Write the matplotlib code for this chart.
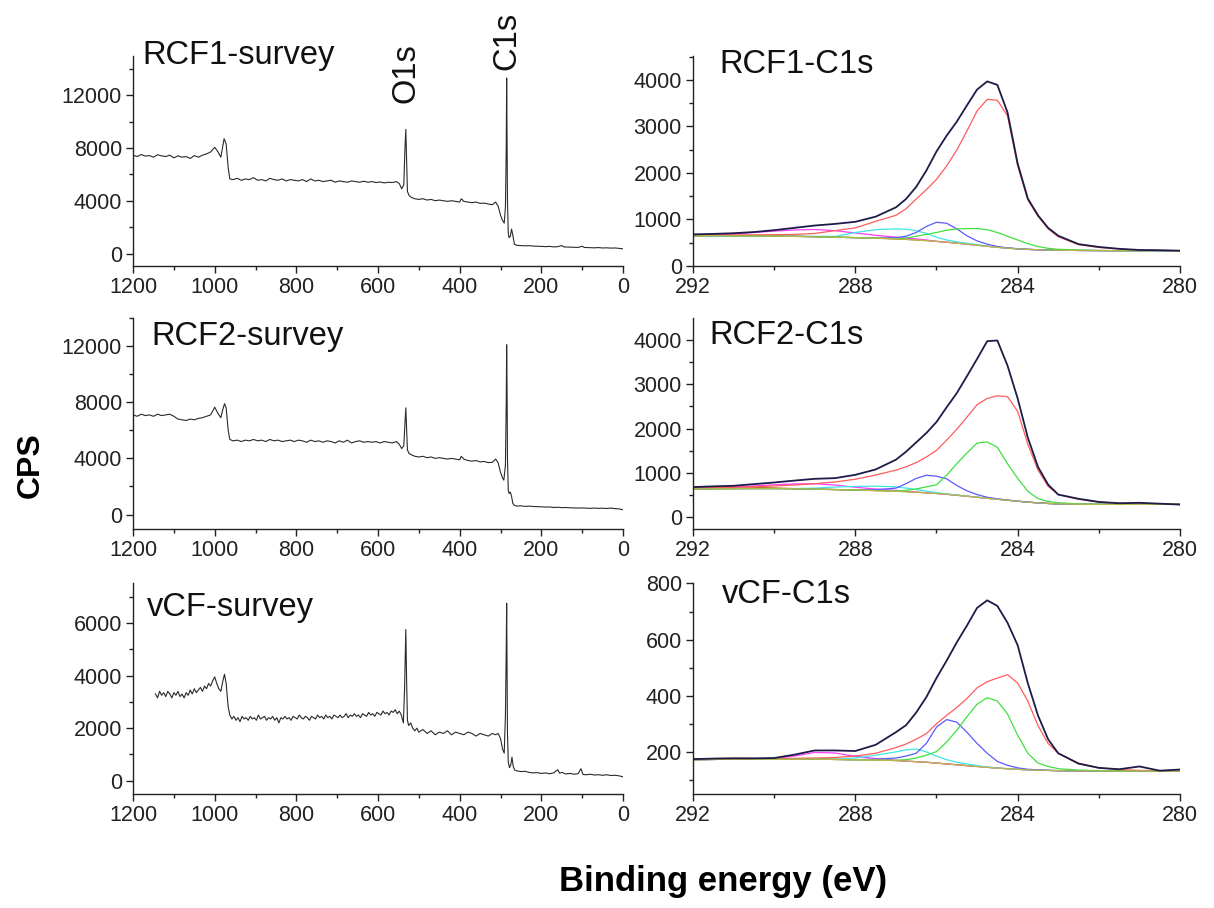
import numpy as np
import matplotlib.pyplot as plt
from matplotlib.ticker import MultipleLocator

plt.rcParams['font.family'] = ['Liberation Sans', 'DejaVu Sans']

# ---------------- survey spectra (binding energy in eV, CPS) ----------------
rcf1_survey_be = [
    1200, 1190, 1180, 1170, 1160, 1150, 1140, 1130, 1120, 1110,
    1100, 1090, 1080, 1070, 1060, 1050, 1040, 1030, 1020, 1010,
    1000, 992, 985, 980, 977, 972, 967, 963, 955, 945,
    935, 925, 915, 905, 895, 885, 875, 865, 855, 845,
    835, 825, 815, 805, 795, 785, 775, 765, 755, 745,
    735, 725, 715, 705, 695, 685, 675, 665, 655, 645,
    635, 625, 615, 605, 595, 585, 575, 565, 555, 548,
    542, 537, 534, 532, 530, 528, 524, 518, 510, 500,
    490, 480, 470, 460, 450, 440, 430, 420, 410, 400,
    396, 390, 380, 370, 360, 350, 340, 330, 320, 312,
    306, 300, 295, 291, 288, 286, 285, 284, 283, 281,
    279, 276, 273, 270, 266, 260, 250, 240, 230, 220,
    210, 200, 190, 180, 170, 160, 150, 145, 130, 120,
    110, 100, 95, 80, 70, 60, 50, 40, 30, 20,
    10, 0]
rcf1_survey_cps = [
    7450, 7350, 7500, 7380, 7420, 7300, 7480, 7400, 7350, 7450,
    7250, 7400, 7300, 7350, 7200, 7420, 7300, 7450, 7550, 7700,
    8050, 7700, 7300, 8200, 8700, 8300, 6500, 5650, 5600, 5700,
    5550, 5650, 5600, 5750, 5550, 5600, 5500, 5700, 5600, 5550,
    5650, 5500, 5600, 5550, 5500, 5600, 5450, 5650, 5500, 5550,
    5450, 5500, 5550, 5400, 5500, 5450, 5400, 5500, 5450, 5400,
    5480, 5400, 5450, 5380, 5420, 5350, 5400, 5380, 5450, 5300,
    4900, 5200, 8000, 9400, 7000, 4700, 4400, 4250, 4150, 4100,
    4150, 4050, 4100, 4000, 4050, 4000, 3950, 4000, 3950, 3900,
    4150, 3950, 3900, 3850, 3900, 3800, 3820, 3750, 3700, 3900,
    3600, 2900, 2500, 2300, 3500, 8000, 13300, 9000, 4000, 1500,
    1200, 1300, 1850, 1400, 700, 620, 600, 580, 600, 560,
    550, 540, 520, 540, 500, 520, 600, 500, 480, 470,
    460, 550, 460, 440, 430, 450, 420, 430, 410, 420,
    390, 350]

rcf2_survey_be = [
    1200, 1190, 1180, 1170, 1160, 1150, 1140, 1130, 1120, 1110,
    1100, 1090, 1080, 1070, 1060, 1050, 1040, 1030, 1020, 1010,
    1000, 992, 985, 980, 976, 972, 967, 963, 955, 945,
    935, 925, 915, 905, 895, 885, 875, 865, 855, 845,
    835, 825, 815, 805, 795, 785, 775, 765, 755, 745,
    735, 725, 715, 705, 695, 685, 675, 665, 655, 645,
    635, 625, 615, 605, 595, 585, 575, 565, 555, 548,
    542, 537, 534, 532, 530, 528, 524, 518, 510, 500,
    490, 480, 470, 460, 450, 440, 430, 420, 410, 400,
    396, 390, 380, 370, 360, 350, 340, 330, 320, 312,
    306, 300, 295, 292, 288, 286, 285, 284, 283, 281,
    279, 276, 273, 270, 266, 260, 250, 240, 230, 220,
    210, 200, 190, 180, 170, 160, 150, 140, 130, 120,
    110, 100, 90, 80, 70, 60, 50, 40, 30, 20,
    10, 0]
rcf2_survey_cps = [
    7100, 7000, 7150, 7050, 7100, 7000, 7150, 7050, 7100, 7150,
    7000, 6800, 6750, 6700, 6800, 6750, 6850, 6900, 7000, 7100,
    7650, 7200, 6900, 7500, 7900, 7600, 6000, 5350, 5250, 5300,
    5200, 5300, 5250, 5350, 5250, 5300, 5200, 5350, 5250, 5300,
    5200, 5250, 5300, 5200, 5300, 5250, 5150, 5300, 5200, 5250,
    5150, 5250, 5200, 5100, 5250, 5150, 5300, 5100, 5200, 5250,
    5150, 5200, 5150, 5200, 5100, 5200, 5150, 5100, 5200, 5000,
    4700, 4900, 6500, 7600, 6000, 4600, 4350, 4250, 4150, 4100,
    4150, 4050, 4100, 4000, 4050, 4000, 3950, 4000, 3950, 3900,
    4150, 3950, 3850, 3800, 3850, 3750, 3780, 3700, 3720, 3950,
    3700, 3000, 2600, 2450, 3500, 8000, 12100, 9000, 4000, 1700,
    1500, 1600, 1300, 800, 650, 600, 620, 580, 600, 570,
    560, 550, 530, 540, 500, 520, 490, 500, 480, 470,
    460, 470, 450, 440, 460, 440, 450, 430, 460, 420,
    400, 340]

vcf_survey_be = [
    1145, 1140, 1135, 1130, 1125, 1120, 1115, 1110, 1105, 1100,
    1095, 1090, 1085, 1080, 1075, 1070, 1065, 1060, 1055, 1050,
    1045, 1040, 1035, 1030, 1025, 1020, 1015, 1010, 1005, 1000,
    995, 990, 985, 980, 976, 972, 967, 963, 958, 953,
    948, 943, 938, 933, 928, 923, 918, 913, 908, 903,
    898, 893, 888, 883, 878, 873, 868, 863, 858, 853,
    848, 843, 838, 833, 828, 823, 818, 813, 808, 803,
    798, 793, 788, 783, 778, 773, 768, 763, 758, 753,
    748, 743, 738, 733, 728, 723, 718, 713, 708, 703,
    698, 693, 688, 683, 678, 673, 668, 663, 658, 653,
    648, 643, 638, 633, 628, 623, 618, 613, 608, 603,
    598, 593, 588, 583, 578, 573, 568, 563, 558, 553,
    548, 543, 538, 535, 532, 530, 528, 525, 520, 515,
    510, 505, 500, 490, 480, 470, 460, 450, 440, 430,
    420, 410, 400, 390, 380, 370, 360, 350, 340, 330,
    320, 312, 306, 300, 295, 291, 288, 286, 285, 284,
    283, 281, 278, 275, 272, 269, 265, 260, 250, 240,
    230, 220, 210, 200, 190, 180, 170, 160, 155, 150,
    140, 130, 120, 110, 103, 98, 90, 80, 70, 60,
    50, 40, 30, 20, 10, 0]
vcf_survey_cps = [
    3300, 3150, 3400, 3250, 3350, 3200, 3400, 3300, 3150, 3350,
    3250, 3400, 3200, 3300, 3150, 3350, 3250, 3450, 3300, 3500,
    3350, 3450, 3550, 3400, 3600, 3500, 3700, 3600, 3800, 3950,
    3700, 3500, 3400, 3800, 4050, 3700, 2800, 2500, 2350, 2450,
    2300, 2400, 2250, 2450, 2350, 2400, 2300, 2450, 2350, 2400,
    2300, 2500, 2350, 2400, 2450, 2300, 2400, 2350, 2450, 2300,
    2400, 2200, 2400, 2350, 2450, 2350, 2400, 2300, 2450, 2400,
    2350, 2500, 2400, 2350, 2450, 2400, 2300, 2450, 2400, 2350,
    2500, 2400, 2450, 2350, 2500, 2400, 2450, 2350, 2500, 2450,
    2400, 2500, 2400, 2450, 2550, 2400, 2500, 2450, 2550, 2450,
    2500, 2400, 2550, 2500, 2450, 2600, 2500, 2550, 2450, 2600,
    2550, 2500, 2650, 2550, 2600, 2500, 2650, 2600, 2700, 2550,
    2650, 2500, 2200, 3500, 5750, 3800, 2300, 2100, 2200, 2000,
    1900, 2000, 1850, 1950, 1800, 1900, 1750, 1850, 1800, 1900,
    1750, 1850, 1800, 1750, 1850, 1800, 1700, 1800, 1750, 1700,
    1800, 1750, 1800, 1600, 1200, 1050, 2500, 5000, 6750, 4000,
    1800, 700, 500, 600, 900, 550, 400, 380, 350, 360,
    320, 300, 310, 280, 300, 270, 300, 420, 290, 320,
    260, 280, 250, 270, 460, 240, 230, 250, 220, 230,
    210, 230, 200, 210, 190, 150]

# ---------------- C1s high resolution: energy grid shared by all fits -------
c1s_be = [292, 291.5, 291, 290.5, 290, 289.5, 289, 288.5, 288, 287.5,
          287, 286.75, 286.5, 286.25, 286, 285.75, 285.5, 285.25, 285, 284.75,
          284.5, 284.25, 284, 283.75, 283.5, 283.25, 283, 282.5, 282, 281.5,
          281, 280.5, 280]

# RCF1
rcf1_bg = [650, 650, 648, 645, 642, 638, 630, 620, 610, 598,
           582, 572, 560, 546, 530, 512, 492, 470, 448, 425,
           403, 385, 370, 358, 350, 344, 340, 335, 332, 330,
           330, 330, 330]
rcf1_env = [680, 690, 705, 730, 770, 820, 870, 905, 950, 1060,
            1260, 1440, 1700, 2050, 2460, 2800, 3100, 3450, 3790, 3965,
            3890, 3300, 2200, 1450, 1090, 820, 650, 470, 410, 370,
            345, 340, 330]
rcf1_red = [650, 660, 665, 670, 672, 680, 700, 760, 820, 960,
            1090, 1230, 1440, 1640, 1860, 2150, 2490, 2900, 3330, 3580,
            3560, 3230, 2150, 1420, 1070, 800, 630, 460, 400, 365,
            340, 335, 330]
rcf1_green = [650, 650, 648, 645, 642, 638, 630, 620, 610, 598,
              590, 600, 640, 680, 720, 770, 795, 805, 805, 780,
              720, 640, 560, 480, 420, 380, 360, 345, 335, 330,
              330, 330, 330]
rcf1_blue = [650, 650, 648, 645, 642, 638, 630, 620, 610, 600,
             610, 640, 720, 850, 940, 920, 800, 650, 540, 470,
             420, 390, 372, 358, 350, 344, 340, 335, 332, 330,
             330, 330, 330]
rcf1_cyan = [650, 650, 648, 645, 642, 638, 640, 635, 720, 780,
             800, 790, 760, 700, 620, 560, 520, 490, 460, 430,
             405, 385, 370, 358, 350, 344, 340, 335, 332, 330,
             330, 330, 330]
rcf1_magenta = [660, 670, 690, 720, 750, 775, 785, 760, 710, 660,
                620, 600, 585, 560, 530, 512, 492, 470, 448, 425,
                403, 385, 370, 358, 350, 344, 340, 335, 332, 330,
                330, 330, 330]
rcf1_orange = [680, 670, 665, 655, 648, 640, 630, 620, 610, 598,
               582, 572, 560, 546, 530, 512, 492, 470, 448, 425,
               403, 385, 370, 358, 350, 344, 340, 335, 332, 330,
               330, 330, 330]

# RCF2
rcf2_bg = [640, 645, 648, 650, 650, 645, 638, 628, 618, 605,
           590, 580, 568, 555, 540, 522, 500, 478, 455, 432,
           410, 388, 365, 345, 328, 315, 305, 298, 295, 295,
           295, 295, 295]
rcf2_env = [684, 700, 713, 750, 787, 830, 870, 885, 960, 1080,
            1300, 1480, 1690, 1900, 2150, 2480, 2800, 3180, 3570, 3970,
            3985, 3420, 2680, 1800, 1140, 740, 515, 420, 350, 320,
            330, 310, 290]
rcf2_red = [660, 670, 680, 690, 710, 730, 760, 800, 860, 955,
            1065, 1140, 1235, 1360, 1510, 1740, 1985, 2260, 2540, 2680,
            2740, 2720, 2390, 1650, 1070, 700, 515, 410, 345, 320,
            310, 300, 295]
rcf2_green = [640, 645, 648, 650, 650, 645, 638, 628, 618, 605,
              595, 610, 640, 690, 735, 950, 1210, 1450, 1675, 1700,
              1580, 1210, 880, 590, 425, 360, 330, 305, 295, 295,
              295, 295, 295]
rcf2_blue = [640, 645, 648, 650, 650, 645, 638, 628, 618, 625,
             660, 760, 880, 950, 930, 870, 720, 600, 515, 455,
             420, 392, 368, 346, 328, 315, 305, 298, 295, 295,
             295, 295, 295]
rcf2_cyan = [640, 645, 648, 650, 650, 650, 660, 685, 700, 705,
             690, 660, 630, 590, 560, 530, 505, 480, 458, 433,
             410, 388, 365, 345, 328, 315, 305, 298, 295, 295,
             295, 295, 295]
rcf2_magenta = [650, 660, 680, 710, 735, 755, 760, 730, 680, 640,
                610, 590, 570, 555, 540, 522, 500, 478, 455, 432,
                410, 388, 365, 345, 328, 315, 305, 298, 295, 295,
                295, 295, 295]
rcf2_orange = [670, 690, 690, 680, 665, 650, 638, 628, 618, 605,
               590, 580, 568, 555, 540, 522, 500, 478, 455, 432,
               410, 388, 365, 345, 328, 315, 305, 298, 295, 295,
               295, 295, 295]

# vCF
vcf_bg = [172, 173, 174, 174, 174, 174, 174, 173, 172, 171,
          169, 167, 165, 163, 160, 157, 154, 151, 148, 145,
          142, 140, 138, 136, 135, 134, 133, 132, 132, 132,
          132, 132, 132]
vcf_env = [174, 176, 177, 177, 178, 190, 205, 205, 203, 225,
           270, 295, 340, 395, 463, 525, 590, 650, 713, 740,
           720, 660, 580, 445, 330, 245, 195, 158, 143, 138,
           148, 133, 137]
vcf_red = [172, 173, 174, 175, 176, 177, 178, 180, 185, 195,
           215, 228, 245, 265, 300, 330, 358, 390, 428, 450,
           463, 475, 445, 381, 294, 230, 195, 160, 143, 137,
           134, 133, 132]
vcf_green = [172, 173, 174, 174, 174, 174, 174, 173, 172, 171,
             170, 172, 178, 188, 201, 235, 277, 325, 370, 393,
             381, 335, 259, 195, 160, 148, 140, 135, 133, 132,
             132, 132, 132]
vcf_blue = [172, 173, 174, 174, 174, 174, 174, 173, 172, 174,
            178, 185, 195, 230, 288, 315, 306, 270, 230, 195,
            166, 152, 143, 138, 136, 134, 133, 132, 132, 132,
            132, 132, 132]
vcf_cyan = [172, 173, 174, 174, 174, 174, 174, 173, 178, 188,
            200, 207, 210, 200, 185, 172, 163, 157, 151, 146,
            142, 140, 138, 136, 135, 134, 133, 132, 132, 132,
            132, 132, 132]
vcf_magenta = [172, 173, 174, 174, 176, 185, 198, 196, 184, 176,
               170, 167, 165, 163, 160, 157, 154, 151, 148, 145,
               142, 140, 138, 136, 135, 134, 133, 132, 132, 132,
               132, 132, 132]
vcf_orange = [175, 176, 177, 176, 175, 174, 174, 173, 172, 171,
              169, 167, 165, 163, 160, 157, 154, 151, 148, 145,
              142, 140, 138, 136, 135, 134, 133, 132, 132, 132,
              132, 132, 132]

survey_titles = ["RCF1-survey", "RCF2-survey", "vCF-survey"]
c1s_titles = ["RCF1-C1s", "RCF2-C1s", "vCF-C1s"]

# component colours (Origin-like)
COLORS = {
    "bg": "#b8b84a",
    "orange": "#d2691e",
    "magenta": "#ff3cff",
    "cyan": "#3ee6e6",
    "blue": "#5a5aff",
    "green": "#40e040",
    "red": "#ff5c5c",
    "env": "#1c1c48",
}


def style_axes(ax, xmaj, xmin, ymaj, ymin):
    for side in ("top", "right"):
        ax.spines[side].set_visible(False)
    for side in ("left", "bottom"):
        ax.spines[side].set_linewidth(1.0)
        ax.spines[side].set_color("#222222")
    ax.xaxis.set_major_locator(MultipleLocator(xmaj))
    ax.xaxis.set_minor_locator(MultipleLocator(xmin))
    ax.yaxis.set_major_locator(MultipleLocator(ymaj))
    ax.yaxis.set_minor_locator(MultipleLocator(ymin))
    ax.tick_params(which="both", direction="out", labelsize=15.5,
                   colors="#222222", width=1.0)
    ax.tick_params(which="major", length=5, pad=3)
    ax.tick_params(which="minor", length=3)


fig = plt.figure(figsize=(12.14, 9.08), dpi=100)

row_bottoms = [0.7070, 0.4179, 0.1256]
row_height = 0.2318
left_x, left_w = 0.1096, 0.4036
right_x, right_w = 0.5708, 0.4012
title_size = 23.5

# ---------------- left column: surveys ----------------
surveys = [
    (rcf1_survey_be, rcf1_survey_cps, (-950, 15000), 4000, 2000, (0.02, 0.962)),
    (rcf2_survey_be, rcf2_survey_cps, (-1000, 14000), 4000, 2000, (0.037, 0.872)),
    (vcf_survey_be, vcf_survey_cps, (-500, 7500), 2000, 1000, (0.029, 0.846)),
]
survey_axes = []
for i, (be, cps, ylim, ymaj, ymin, tpos) in enumerate(surveys):
    ax = fig.add_axes([left_x, row_bottoms[i], left_w, row_height])
    ax.plot(be, cps, color="#2a2a2a", lw=0.8)
    ax.set_xlim(1200, 0)
    ax.set_ylim(*ylim)
    style_axes(ax, 200, 100, ymaj, ymin)
    ax.text(tpos[0], tpos[1], survey_titles[i], transform=ax.transAxes,
            fontsize=title_size, va="baseline", ha="left", color="#111111")
    survey_axes.append(ax)

# peak labels on the first survey
survey_axes[0].text(532, 11400, "O1s", rotation=90, ha="center", va="bottom",
                    fontsize=title_size, color="#111111", clip_on=False)
survey_axes[0].text(285, 13900, "C1s", rotation=90, ha="center", va="bottom",
                    fontsize=title_size, color="#111111", clip_on=False)

# ---------------- right column: C1s fits ----------------
fits = [
    dict(bg=rcf1_bg, orange=rcf1_orange, magenta=rcf1_magenta, cyan=rcf1_cyan,
         blue=rcf1_blue, green=rcf1_green, red=rcf1_red, env=rcf1_env),
    dict(bg=rcf2_bg, orange=rcf2_orange, magenta=rcf2_magenta, cyan=rcf2_cyan,
         blue=rcf2_blue, green=rcf2_green, red=rcf2_red, env=rcf2_env),
    dict(bg=vcf_bg, orange=vcf_orange, magenta=vcf_magenta, cyan=vcf_cyan,
         blue=vcf_blue, green=vcf_green, red=vcf_red, env=vcf_env),
]
fit_ylims = [(0, 4520), (-250, 4490), (50, 800)]
fit_yticks = [(1000, 500), (1000, 500), (200, 100)]
fit_tpos = [(0.055, 0.915), (0.033, 0.876), (0.06, 0.908)]

for i, curves in enumerate(fits):
    ax = fig.add_axes([right_x, row_bottoms[i], right_w, row_height])
    for key in ("orange", "magenta", "cyan", "blue", "green", "red", "bg"):
        ax.plot(c1s_be, curves[key], color=COLORS[key], lw=0.9)
    ax.plot(c1s_be, curves["env"], color=COLORS["env"], lw=1.3)
    ax.set_xlim(292, 280)
    ax.set_ylim(*fit_ylims[i])
    style_axes(ax, 4, 2, *fit_yticks[i])
    ax.text(fit_tpos[i][0], fit_tpos[i][1], c1s_titles[i], transform=ax.transAxes,
            fontsize=title_size, va="baseline", ha="left", color="#111111")

fig.text(0.025, 0.488, "CPS", rotation=90, fontsize=23, fontweight="bold",
         ha="center", va="center")
fig.text(0.596, 0.029, "Binding energy (eV)", fontsize=25, fontweight="bold",
         ha="center", va="center")

fig.savefig("out.png", dpi=100)
